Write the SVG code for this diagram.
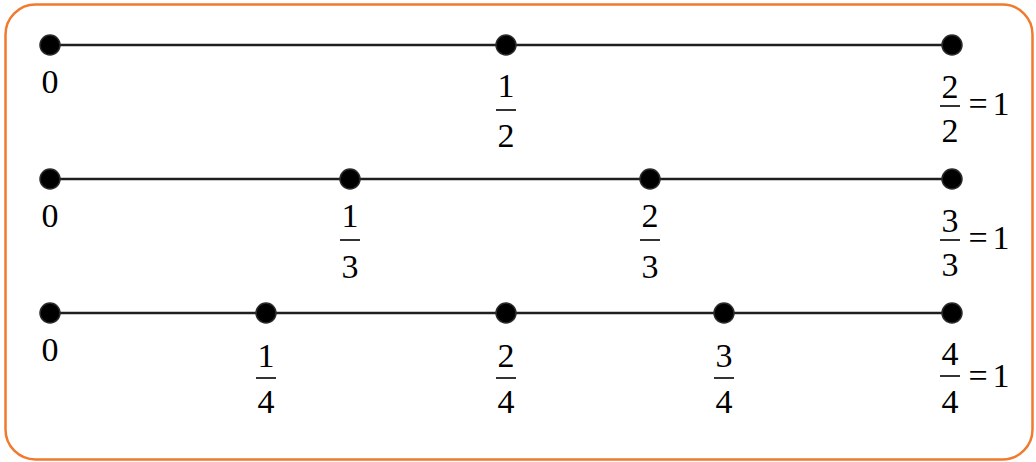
<svg xmlns="http://www.w3.org/2000/svg" width="1036" height="462" viewBox="0 0 1036 462">
<style>
.ln{stroke:#1f1f1f;stroke-width:2.5;fill:none}
.bar{stroke:#000;stroke-width:1.6}
.dot{fill:#000;stroke:#2a2a2a;stroke-width:1.5}
</style>
<rect x="5.5" y="4.5" width="1027" height="455" rx="30" ry="30" fill="#fff" stroke="#F07A2E" stroke-width="2.5"/>
<g id="connectors">
<line class="ln" x1="50" y1="45" x2="952" y2="45"/>
<line class="ln" x1="50" y1="179" x2="952" y2="179"/>
<line class="ln" x1="50" y1="313" x2="952" y2="313"/>
</g>
<g font-family="Liberation Serif, Times New Roman, DejaVu Serif, serif" font-size="34" text-anchor="middle" fill="#000">
<g id="row1">
<circle class="dot" cx="50" cy="45" r="10"/>
<circle class="dot" cx="506" cy="45" r="10"/>
<circle class="dot" cx="952" cy="45" r="10"/>
<text x="50" y="93">0</text>
<text x="506" y="97">1</text><line class="bar" x1="496" y1="110" x2="516" y2="110"/><text x="506" y="147">2</text>
<text x="950" y="98">2</text><line class="bar" x1="940" y1="106" x2="960" y2="106"/><text x="950" y="142">2</text>
<text x="978" y="115">=</text><text x="1001" y="115">1</text>
</g>
<g id="row2">
<circle class="dot" cx="50" cy="179" r="10"/>
<circle class="dot" cx="350" cy="179" r="10"/>
<circle class="dot" cx="650" cy="179" r="10"/>
<circle class="dot" cx="952" cy="179" r="10"/>
<text x="50" y="227">0</text>
<text x="350" y="227">1</text><line class="bar" x1="340" y1="240" x2="360" y2="240"/><text x="350" y="278">3</text>
<text x="650" y="227">2</text><line class="bar" x1="640" y1="240" x2="660" y2="240"/><text x="650" y="278">3</text>
<text x="950" y="232">3</text><line class="bar" x1="940" y1="240" x2="960" y2="240"/><text x="950" y="276">3</text>
<text x="978" y="249">=</text><text x="1001" y="249">1</text>
</g>
<g id="row3">
<circle class="dot" cx="50" cy="313" r="10"/>
<circle class="dot" cx="266" cy="313" r="10"/>
<circle class="dot" cx="506" cy="313" r="10"/>
<circle class="dot" cx="724" cy="313" r="10"/>
<circle class="dot" cx="952" cy="313" r="10"/>
<text x="50" y="361">0</text>
<text x="266" y="367">1</text><line class="bar" x1="256" y1="378" x2="276" y2="378"/><text x="266" y="413">4</text>
<text x="506" y="367">2</text><line class="bar" x1="496" y1="378" x2="516" y2="378"/><text x="506" y="413">4</text>
<text x="724" y="367">3</text><line class="bar" x1="714" y1="378" x2="734" y2="378"/><text x="724" y="413">4</text>
<text x="950" y="365">4</text><line class="bar" x1="940" y1="376" x2="960" y2="376"/><text x="950" y="413">4</text>
<text x="978" y="387">=</text><text x="1001" y="387">1</text>
</g>
</g>
</svg>
